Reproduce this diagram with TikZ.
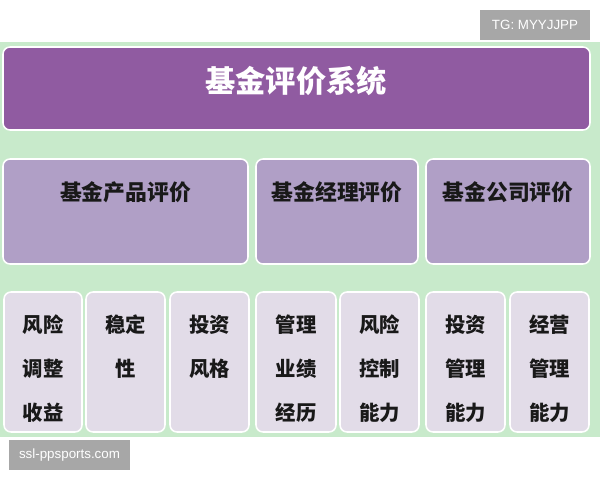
\documentclass[tikz,border=0pt]{standalone}
\usepackage{fontspec}
\usepackage{tikz}
\newfontfamily\cjk{Noto Sans CJK SC}
\newfontfamily\wmfont{Liberation Sans}
\definecolor{MyGreen}{HTML}{C8EACB}
\definecolor{MyPurple}{HTML}{905BA1}
\definecolor{MyLilac}{HTML}{B09FC6}
\definecolor{MyPale}{HTML}{E2DCE8}
\definecolor{MyGray}{HTML}{A7A7A7}
\newcommand{\pxl}{0.025cm}

\begin{document}
\begin{tikzpicture}[x=0.025cm,y=-0.025cm,
    box/.style={draw=white,line width=1.1pt,rounded corners=5pt,inner sep=0pt},
    toptitle/.style={font=\cjk\bfseries\fontsize{21.5}{26}\selectfont,text=white},
    midtitle/.style={font=\cjk\bfseries\fontsize{15.5}{19}\selectfont,text=black!90},
    leaf/.style={font=\cjk\bfseries\fontsize{14.5}{31.3}\selectfont,text=black!90,align=center},
    wmbox/.style={fill=MyGray,text=white,inner sep=0pt,font=\wmfont\fontsize{9.5}{11}\selectfont}]

        \useasboundingbox (0,0) rectangle (600,480);
        \fill[white] (0,0) rectangle (600,480);
        \fill[MyGreen] (0,42) rectangle (600,437);

            \node[box,fill=MyPurple,minimum width=587*\pxl,minimum height=83*\pxl] (sys) at (296.5,88.5) {};
            \node[toptitle] (systext) at (296,81) {基金评价系统};

            \node[box,fill=MyLilac,minimum width=245*\pxl,minimum height=105*\pxl] (prod) at (125.5,211.5) {};
            \node[midtitle] (prodtext) at (125.5,192) {基金产品评价};

            \node[box,fill=MyLilac,minimum width=162*\pxl,minimum height=105*\pxl] (mgr) at (337,211.5) {};
            \node[midtitle] (mgrtext) at (337,192) {基金经理评价};

            \node[box,fill=MyLilac,minimum width=164*\pxl,minimum height=105*\pxl] (corp) at (508,211.5) {};
            \node[midtitle] (corptext) at (508,192) {基金公司评价};

        \node[box,fill=MyPale,minimum width=78*\pxl,minimum height=140*\pxl] (riskadj) at (43,362) {};
        \node[leaf] (riskadjtext) at (43,369) {风险\\调整\\收益};

        \node[box,fill=MyPale,minimum width=79*\pxl,minimum height=140*\pxl] (stable) at (125.5,362) {};
        \node[leaf] (stabletext) at (125.5,347) {稳定\\性};

        \node[box,fill=MyPale,minimum width=79*\pxl,minimum height=140*\pxl] (style) at (209.5,362) {};
        \node[leaf] (styletext) at (209.5,347) {投资\\风格};

        \node[box,fill=MyPale,minimum width=80*\pxl,minimum height=140*\pxl] (record) at (296,362) {};
        \node[leaf] (recordtext) at (296,369) {管理\\业绩\\经历};

        \node[box,fill=MyPale,minimum width=79*\pxl,minimum height=140*\pxl] (riskctl) at (379.5,362) {};
        \node[leaf] (riskctltext) at (379.5,369) {风险\\控制\\能力};

        \node[box,fill=MyPale,minimum width=79*\pxl,minimum height=140*\pxl] (invest) at (465.5,362) {};
        \node[leaf] (investtext) at (465.5,369) {投资\\管理\\能力};

        \node[box,fill=MyPale,minimum width=79*\pxl,minimum height=140*\pxl] (oper) at (549.5,362) {};
        \node[leaf] (opertext) at (549.5,369) {经营\\管理\\能力};

            \node[wmbox,minimum width=110*\pxl,minimum height=30*\pxl] (tg) at (535,25) {TG: MYYJJPP};
            \node[wmbox,minimum width=121*\pxl,minimum height=30*\pxl] (site) at (69.5,455) {ssl-ppsports.com};
\end{tikzpicture}
\end{document}
